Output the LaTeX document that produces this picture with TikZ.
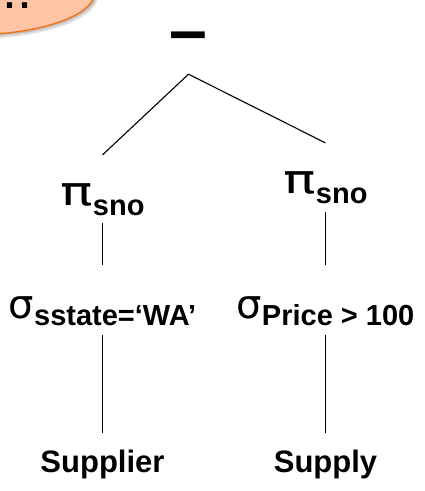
\documentclass[tikz,border=0pt]{standalone}
\usepackage{fontspec}
\usepackage{graphicx}
\setmainfont{Liberation Sans}
\newfontfamily\greekfont{DejaVu Sans}
\usetikzlibrary{positioning}
\definecolor{calloutfill}{RGB}{255,196,166}
\definecolor{calloutline}{RGB}{238,118,28}
% operator symbol with its bold subscript
\newcommand{\relop}[3]{{\greekfont\fontsize{40}{40}\selectfont #1}\raisebox{-#3pt}{\fontsize{29}{29}\selectfont\bfseries #2}}

\begin{document}
\begin{tikzpicture}[x=1pt, y=-1pt,
    op/.style={inner sep=0, anchor=base},
    rel/.style={inner sep=0, anchor=base, font=\fontsize{31}{31}\selectfont\bfseries},
    edge/.style={line width=1.1pt}]
    \clip (0,0) rectangle (424,491);
    \fill[white] (0,0) rectangle (424,491);
    \def\colL{102.5}
    \def\colR{325.5}

    % callout, cut off at the corner
    \fill[black, opacity=0.12] (-27,-4) ellipse[x radius=125, y radius=43];
    \fill[black, opacity=0.12] (-28,-6) ellipse[x radius=125, y radius=43];
    \draw[calloutline, fill=calloutfill, line width=1.5pt] (-30,-8) ellipse[x radius=125, y radius=43];
    \node[inner sep=0, anchor=base west, font=\fontsize{54}{54}\selectfont] (dots) at (2.4,8.3) {..};

    \node[op, font=\fontsize{68}{68}\selectfont\bfseries] (diff) at (188.5,53) {–};
    \node[op] (projL) at (\colL,205) {\relop{\scalebox{1.35}[1]{π}}{sno}{10}};
    \node[op] (projR) at (\colR,193) {\relop{\scalebox{1.35}[1]{π}}{sno}{10}};
    \node[op] (selL) at (\colL,318) {\relop{σ}{sstate=‘WA’}{7}};
    \node[op] (selR) at (\colR,318) {\relop{σ}{Price > 100}{7}};
    \node[rel] (supplier) at (\colL,472) {Supplier};
    \node[rel] (supply) at (\colR,472) {Supply};

    \coordinate[below=21pt of diff] (apex);
    \coordinate[above=28pt of projL] (projLtop);
    \coordinate[above=28pt of projR] (projRtop);
    \draw[edge] (projLtop) -- (apex) -- (projRtop);

    \draw[edge] ([yshift=-8]projL.south) -- ([yshift=31]selL.north);
    \draw[edge] ([yshift=-9]projR.south) -- ([yshift=31]selR.north);
    \draw[edge] ([yshift=-10]selL.south) -- ([yshift=16]supplier.north);
    \draw[edge] ([yshift=-10]selR.south) -- ([yshift=16]supply.north);
\end{tikzpicture}
\end{document}
